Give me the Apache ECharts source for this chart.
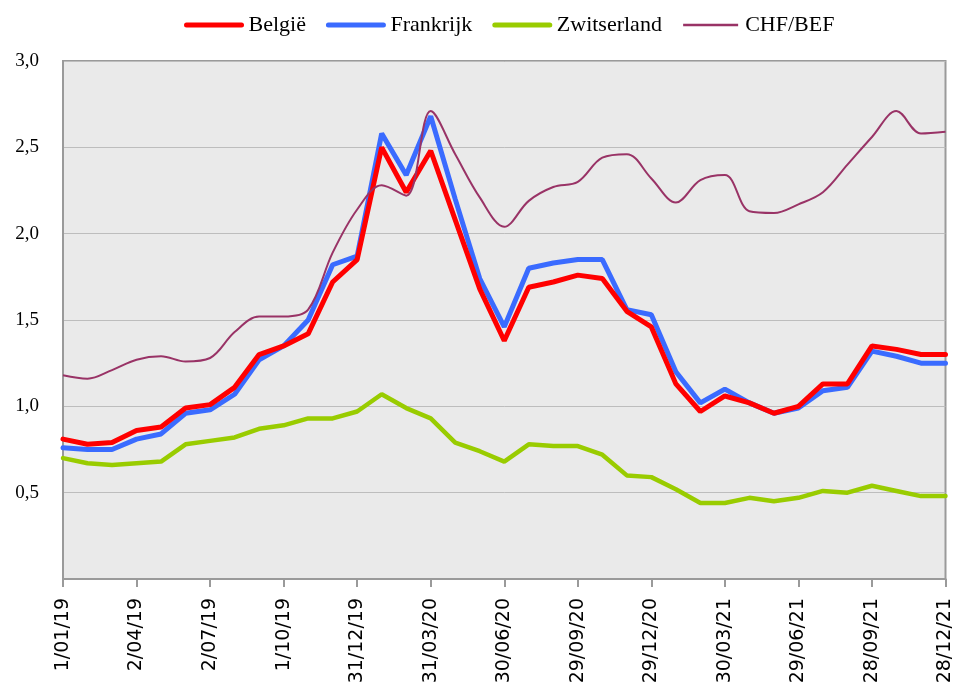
<!DOCTYPE html>
<html>
<head>
<meta charset="utf-8">
<script src="https://cdn.jsdelivr.net/npm/echarts@6/dist/echarts.min.js"></script>
<style>
  html, body { margin: 0; padding: 0; background: #ffffff; }
  #chart { width: 955px; height: 689px; }
</style>
</head>
<body>
<div id="chart"></div>
<script>
// kwartaal-labels (elke 3 punten)
var tickLabels = ['1/01/19', '2/04/19', '2/07/19', '1/10/19', '31/12/19', '31/03/20', '30/06/20',
  '29/09/20', '29/12/20', '30/03/21', '29/06/21', '28/09/21', '28/12/21']

var belgie = [0.81, 0.78, 0.79, 0.86, 0.88, 0.99, 1.01, 1.11, 1.30, 1.35, 1.42, 1.72, 1.85,
  2.50, 2.24, 2.48, 2.08, 1.68, 1.38, 1.69, 1.72, 1.76, 1.74, 1.55, 1.46, 1.13, 0.97,
  1.06, 1.02, 0.96, 1.00, 1.13, 1.13, 1.35, 1.33, 1.30, 1.30]

var frankrijk = [0.76, 0.75, 0.75, 0.81, 0.84, 0.96, 0.98, 1.07, 1.27, 1.35, 1.50, 1.82, 1.87,
  2.58, 2.34, 2.68, 2.20, 1.74, 1.46, 1.80, 1.83, 1.85, 1.85, 1.56, 1.53, 1.20, 1.02,
  1.10, 1.02, 0.96, 0.99, 1.09, 1.11, 1.32, 1.29, 1.25, 1.25]

var zwitserland = [0.70, 0.67, 0.66, 0.67, 0.68, 0.78, 0.80, 0.82, 0.87, 0.89, 0.93, 0.93, 0.97,
  1.07, 0.99, 0.93, 0.79, 0.74, 0.68, 0.78, 0.77, 0.77, 0.72, 0.60, 0.59, 0.52, 0.44,
  0.44, 0.47, 0.45, 0.47, 0.51, 0.50, 0.54, 0.51, 0.48, 0.48]

var chfBef = [1.18, 1.16, 1.21, 1.27, 1.29, 1.26, 1.28, 1.43, 1.52, 1.52, 1.56, 1.89, 2.14,
  2.28, 2.22, 2.71, 2.46, 2.21, 2.04, 2.19, 2.27, 2.30, 2.44, 2.46, 2.32, 2.18, 2.31,
  2.34, 2.13, 2.12, 2.17, 2.24, 2.40, 2.56, 2.71, 2.58, 2.59]

function pts(arr) {
  return arr.map(function (v, i) { return [i, v] })
}

var chart = echarts.init(document.getElementById('chart'))

var option = {
  animation: false,
  backgroundColor: '#ffffff',
  legend: {
    top: 9,
    left: 179,
    itemWidth: 55,
    itemHeight: 14,
    itemGap: 20,
    itemStyle: { opacity: 0 },
    textStyle: {
      fontFamily: 'Liberation Serif',
      fontSize: 22,
      color: '#000000',
      padding: [0, 0, 0, 2]
    },
    data: [
      { name: 'België', lineStyle: { width: 5, cap: 'round' } },
      { name: 'Frankrijk', lineStyle: { width: 5, cap: 'round' } },
      { name: 'Zwitserland', lineStyle: { width: 5, cap: 'round' } },
      { name: 'CHF/BEF', lineStyle: { width: 2.5 } }
    ]
  },
  grid: {
    left: 63,
    right: 9,
    top: 61,
    bottom: 110,
    show: true,
    backgroundColor: '#EAEAEA',
    borderColor: '#9A9A9A',
    borderWidth: 2
  },
  xAxis: {
    type: 'value',
    min: 0,
    max: 36,
    interval: 3,
    axisLine: { show: true, lineStyle: { color: '#9A9A9A', width: 2 } },
    axisTick: { show: true, length: 8, lineStyle: { color: '#9A9A9A', width: 2 } },
    splitLine: { show: false },
    axisLabel: {
      rotate: 90,
      margin: 19,
      fontFamily: 'DejaVu Sans',
      fontSize: 19,
      color: '#000000',
      formatter: function (v) { return tickLabels[Math.round(v / 3)] || '' }
    }
  },
  yAxis: {
    type: 'value',
    min: 0,
    max: 3,
    interval: 0.5,
    axisLine: { show: true, lineStyle: { color: '#9A9A9A', width: 2 } },
    axisTick: { show: false },
    splitLine: { show: true, lineStyle: { color: '#BDBDBD', width: 1 } },
    axisLabel: {
      margin: 24,
      fontFamily: 'Liberation Serif',
      fontSize: 19,
      color: '#000000',
      formatter: function (v) { return v === 0 ? '' : v.toFixed(1).replace('.', ',') }
    }
  },
  series: [
    {
      name: 'België',
      type: 'line',
      showSymbol: false,
      symbol: 'none',
      data: pts(belgie),
      itemStyle: { color: '#FF0000' },
      lineStyle: { color: '#FF0000', width: 5, cap: 'round' },
      z: 4
    },
    {
      name: 'Frankrijk',
      type: 'line',
      showSymbol: false,
      symbol: 'none',
      data: pts(frankrijk),
      itemStyle: { color: '#3A6BFF' },
      lineStyle: { color: '#3A6BFF', width: 5, cap: 'round' },
      z: 3
    },
    {
      name: 'Zwitserland',
      type: 'line',
      showSymbol: false,
      symbol: 'none',
      data: pts(zwitserland),
      itemStyle: { color: '#99CC00' },
      lineStyle: { color: '#99CC00', width: 4.5, cap: 'round' },
      z: 2
    },
    {
      name: 'CHF/BEF',
      type: 'line',
      showSymbol: false,
      symbol: 'none',
      smooth: 0.35,
      data: pts(chfBef),
      itemStyle: { color: '#993366' },
      lineStyle: { color: '#993366', width: 2 },
      z: 5
    }
  ]
}

chart.setOption(option)
</script>
</body>
</html>
